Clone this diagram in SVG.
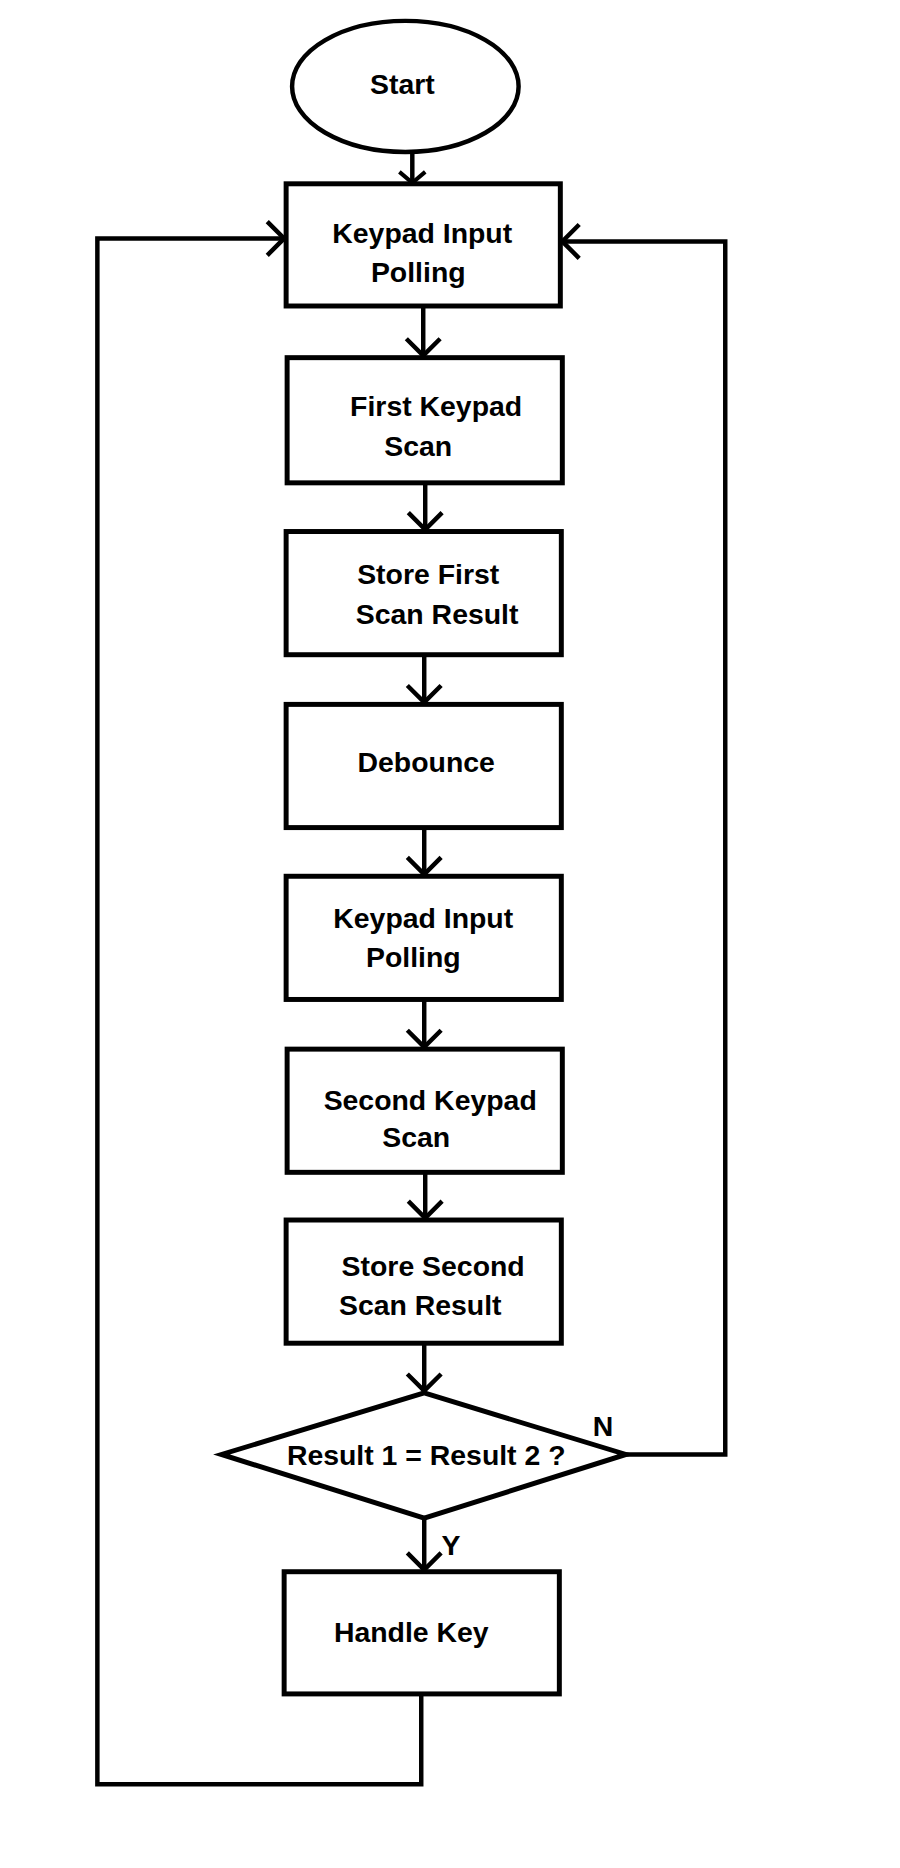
<svg xmlns="http://www.w3.org/2000/svg" width="900" height="1868" viewBox="0 0 900 1868">
<defs>
<style>
.box{fill:#fff;stroke:#000;stroke-width:5}
.ln{fill:none;stroke:#000;stroke-width:4.5}
.t{font-family:"Liberation Sans",Arial,sans-serif;font-weight:bold;font-size:28.6px;fill:#000;text-anchor:middle}
</style>
<marker id="ah" markerUnits="userSpaceOnUse" markerWidth="40" markerHeight="40" refX="20" refY="20" orient="auto" overflow="visible">
<path d="M3,3 L20,20 L3,37" fill="none" stroke="#000" stroke-width="4.5"/>
</marker>
<marker id="ahs" markerUnits="userSpaceOnUse" markerWidth="30" markerHeight="30" refX="15" refY="15" orient="auto" overflow="visible">
<path d="M4,2 L15,15 L4,28" fill="none" stroke="#000" stroke-width="4"/>
</marker>
</defs>
<rect width="900" height="1868" fill="#fff"/>
<g transform="scale(0.9935)">
<g id="connectors">
<line class="ln" x1="415" y1="153" x2="415" y2="184" marker-end="url(#ahs)"/>
<line class="ln" x1="426" y1="308" x2="426" y2="358" marker-end="url(#ah)"/>
<line class="ln" x1="428" y1="486" x2="428" y2="533" marker-end="url(#ah)"/>
<line class="ln" x1="427" y1="659" x2="427" y2="707" marker-end="url(#ah)"/>
<line class="ln" x1="427" y1="833" x2="427" y2="880" marker-end="url(#ah)"/>
<line class="ln" x1="427" y1="1006" x2="427" y2="1054" marker-end="url(#ah)"/>
<line class="ln" x1="428" y1="1180" x2="428" y2="1226" marker-end="url(#ah)"/>
<line class="ln" x1="427" y1="1352" x2="427" y2="1400" marker-end="url(#ah)"/>
<line class="ln" x1="427" y1="1528" x2="427" y2="1580" marker-end="url(#ah)"/>
<polyline class="ln" points="630,1464 730,1464 730,243 566,243" marker-end="url(#ah)"/>
<polyline class="ln" points="424,1705 424,1796 98,1796 98,240 286,240" marker-end="url(#ah)"/>
</g>
<g id="start">
<ellipse cx="408" cy="87" rx="114" ry="66" fill="#fff" stroke="#000" stroke-width="4.5"/>
<text class="t" x="405" y="95">Start</text>
</g>
<g id="poll1">
<rect class="box" x="288" y="185" width="276" height="123"/>
<text class="t" x="425" y="245">Keypad Input</text>
<text class="t" x="421" y="284">Polling</text>
</g>
<g id="scan1">
<rect class="box" x="289" y="360" width="277" height="126"/>
<text class="t" x="439" y="419">First Keypad</text>
<text class="t" x="421" y="459">Scan</text>
</g>
<g id="store1">
<rect class="box" x="288" y="535" width="277" height="124"/>
<text class="t" x="431" y="588">Store First</text>
<text class="t" x="440" y="628">Scan Result</text>
</g>
<g id="debounce">
<rect class="box" x="288" y="709" width="277" height="124"/>
<text class="t" x="429" y="777">Debounce</text>
</g>
<g id="poll2">
<rect class="box" x="288" y="882" width="277" height="124"/>
<text class="t" x="426" y="934">Keypad Input</text>
<text class="t" x="416" y="973">Polling</text>
</g>
<g id="scan2">
<rect class="box" x="289" y="1056" width="277" height="124"/>
<text class="t" x="433" y="1117">Second Keypad</text>
<text class="t" x="419" y="1155">Scan</text>
</g>
<g id="store2">
<rect class="box" x="288" y="1228" width="277" height="124"/>
<text class="t" x="436" y="1284">Store Second</text>
<text class="t" x="423" y="1324">Scan Result</text>
</g>
<g id="decision">
<polygon class="box" points="427,1402 630,1464 427,1528 223,1464"/>
<text class="t" x="429" y="1475">Result 1 = Result 2 ?</text>
<text class="t" x="607" y="1445">N</text>
<text class="t" x="454" y="1565">Y</text>
</g>
<g id="handle">
<rect class="box" x="286" y="1582" width="277" height="123"/>
<text class="t" x="414" y="1653">Handle Key</text>
</g>
</g>
</svg>
